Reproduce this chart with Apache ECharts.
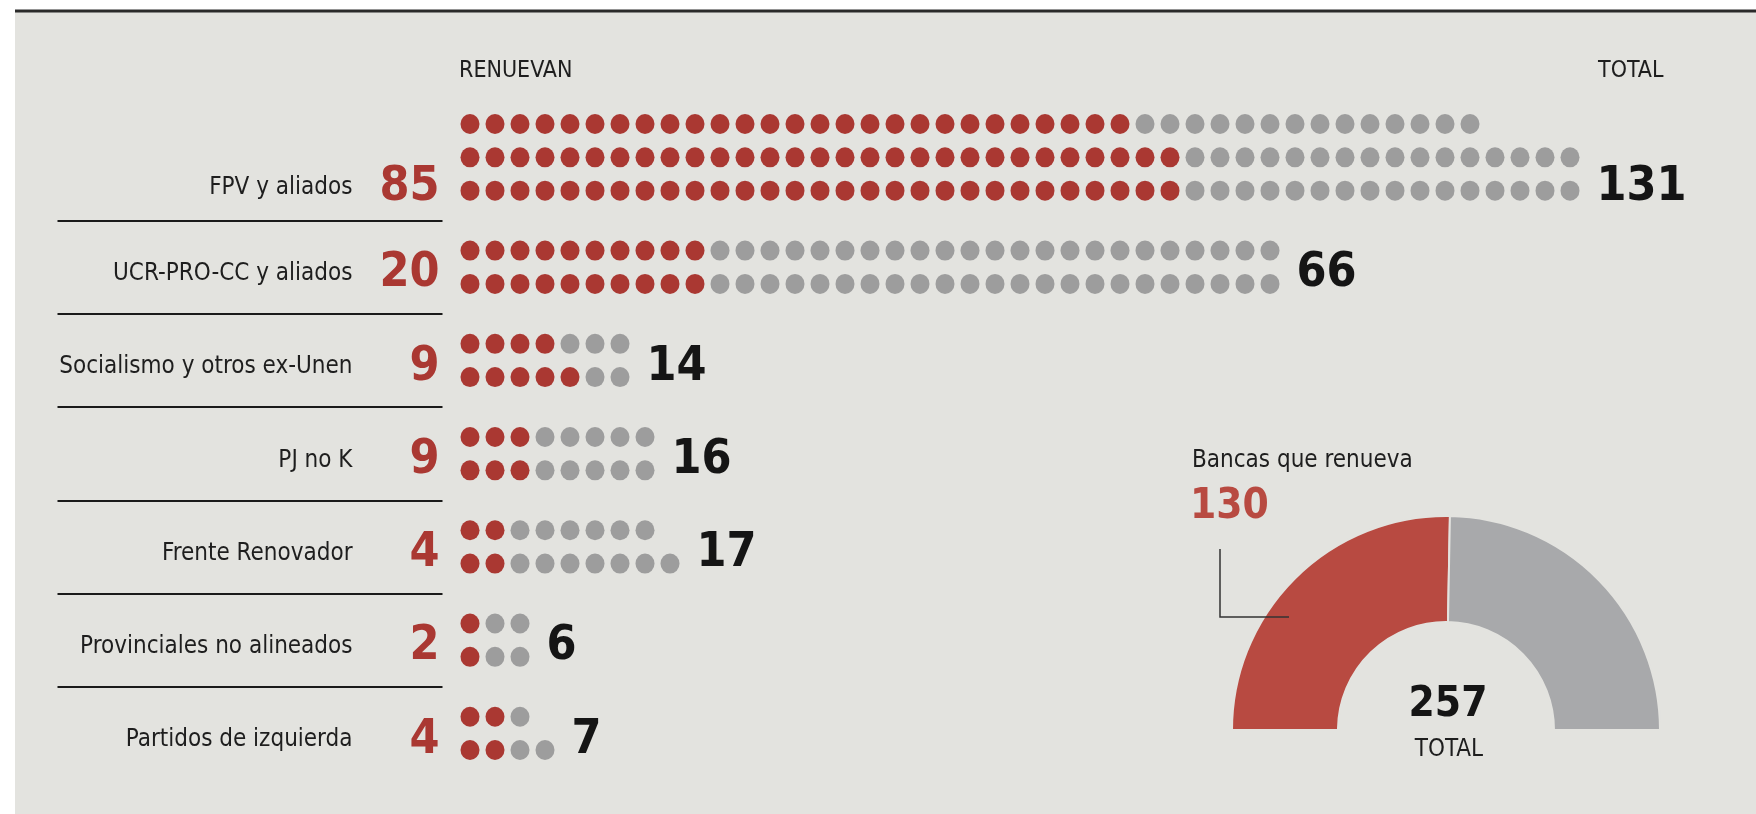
<!DOCTYPE html>
<html>
<head>
<meta charset="utf-8">
<script src="https://cdn.jsdelivr.net/npm/echarts@6/dist/echarts.min.js"></script>
<style>
  html, body { margin: 0; padding: 0; background: #fff; }
  #bancas { width: 1756px; height: 814px; }
</style>
</head>
<body>
<div id="bancas"></div>
<script>
// bloques y bancas
var partidos = ['FPV y aliados', 'UCR-PRO-CC y aliados', 'Socialismo y otros ex-Unen', 'PJ no K',
                'Frente Renovador', 'Provinciales no alineados', 'Partidos de izquierda'];
var renuevan = [85, 20, 9, 9, 4, 2, 4];
var totales = [131, 66, 14, 16, 17, 6, 7];
// puntos dibujados por fila (rojos = renuevan)
var rojosPorFila = [[27, 29, 29], [10, 10], [4, 5], [3, 3], [2, 2], [1, 1], [2, 2]];
var puntosPorFila = [[41, 45, 45], [33, 33], [7, 7], [8, 8], [8, 9], [3, 3], [3, 4]];
var bancasRenueva = 130;
var bancasTotal = 257;

var rojo = '#aa3832';
var gris = '#9d9d9d';
var fondo = '#e3e3df';
var angosta = '"DejaVu Sans Condensed", "Liberation Sans Narrow", sans-serif';
var salto = 1.8; // espacio entre bloques, en filas

var filaInicio = [];
var fila = 0;
for (var p = 0; p < partidos.length; p++) {
    filaInicio.push(fila);
    fila += puntosPorFila[p].length - 1 + salto;
}

var puntosRojos = [], puntosGrises = [], etiquetas = [], totalesPos = [], separadores = [];
for (var p = 0; p < partidos.length; p++) {
    var filas = puntosPorFila[p];
    var maxCol = 0;
    for (var r = 0; r < filas.length; r++) {
        for (var i = 0; i < filas[r]; i++) {
            var punto = [i, filaInicio[p] + r];
            if (i < rojosPorFila[p][r]) puntosRojos.push(punto);
            else puntosGrises.push(punto);
        }
        maxCol = Math.max(maxCol, filas[r] - 1);
    }
    // etiqueta a la altura de las dos ultimas filas
    var yEtiqueta = filaInicio[p] + filas.length - 1.5 + 0.2 + 0.2 * (filas.length - 2);
    etiquetas.push({value: [0, yEtiqueta], name: partidos[p], renuevan: renuevan[p]});
    totalesPos.push({value: [maxCol, yEtiqueta], total: totales[p]});
    if (p > 0) {
        separadores.push([{coord: [-16.5, filaInicio[p] - 0.9]}, {coord: [-1.1, filaInicio[p] - 0.9]}]);
    }
}

var invisible = {color: 'rgba(0,0,0,0)', opacity: 1};

var option = {
    animation: false,
    backgroundColor: fondo,
    grid: {left: 7.5, right: 48.5, top: 107.4, bottom: 47.3},
    xAxis: {type: 'value', min: -18.5, max: 49.5, show: false},
    yAxis: {type: 'value', min: -0.5, max: 19.3, inverse: true, show: false},
    graphic: [
        {type: 'rect', shape: {x: 0, y: 0, width: 1756, height: 10}, style: {fill: '#fff'}},
        {type: 'rect', shape: {x: 0, y: 0, width: 15, height: 814}, style: {fill: '#fff'}},
        {type: 'line', shape: {x1: 15, y1: 11, x2: 1756, y2: 11}, style: {stroke: '#2a2a2a', lineWidth: 3}},
        {type: 'text', x: 459, y: 71, style: {text: 'RENUEVAN', font: '23px ' + angosta, fill: '#1e1e1e', verticalAlign: 'middle'}},
        {type: 'text', x: 1598, y: 71, style: {text: 'TOTAL', font: '23px ' + angosta, fill: '#1e1e1e', verticalAlign: 'middle'}},
        {type: 'text', x: 1192, y: 461, style: {text: 'Bancas que renueva', font: '24px ' + angosta, fill: '#1e1e1e', verticalAlign: 'middle'}},
        {type: 'text', x: 1190, y: 507, style: {text: String(bancasRenueva), font: 'bold 42px ' + angosta, fill: '#b84a41', verticalAlign: 'middle'}},
        {type: 'polyline', shape: {points: [[1220, 549], [1220, 617], [1289, 617]]}, style: {stroke: '#333', lineWidth: 1.5, fill: null}, z: 10},
        {type: 'text', x: 1448, y: 705, style: {text: String(bancasTotal), font: 'bold 42px ' + angosta, fill: '#151515', align: 'center', verticalAlign: 'middle'}, z: 10},
        {type: 'text', x: 1449, y: 750, style: {text: 'TOTAL', font: '24px ' + angosta, fill: '#1e1e1e', align: 'center', verticalAlign: 'middle'}, z: 10}
    ],
    series: [
        {
            name: 'Renuevan', type: 'scatter', silent: true,
            symbolSize: [19, 20], itemStyle: {color: rojo, opacity: 1},
            data: puntosRojos
        },
        {
            name: 'No renuevan', type: 'scatter', silent: true,
            symbolSize: [19, 20], itemStyle: {color: gris, opacity: 1},
            data: puntosGrises
        },
        {
            name: 'Partidos', type: 'scatter', silent: true,
            symbolSize: 1, itemStyle: invisible,
            label: {
                show: true, position: 'left', distance: 117,
                formatter: function (d) { return d.name; },
                fontFamily: angosta, fontSize: 24, color: '#1e1e1e'
            },
            markLine: {
                silent: true, symbol: ['none', 'none'], label: {show: false},
                lineStyle: {type: 'solid', color: '#1a1a1a', width: 2, opacity: 1},
                data: separadores
            },
            data: etiquetas
        },
        {
            name: 'Cantidad', type: 'scatter', silent: true,
            symbolSize: 1, itemStyle: invisible,
            label: {
                show: true, position: 'left', distance: 30,
                formatter: function (d) { return d.data.renuevan; },
                fontFamily: angosta, fontWeight: 'bold', fontSize: 48, color: rojo
            },
            data: etiquetas
        },
        {
            name: 'Total', type: 'scatter', silent: true,
            symbolSize: 1, itemStyle: invisible,
            label: {
                show: true, position: 'right', distance: 26,
                formatter: function (d) { return d.data.total; },
                fontFamily: angosta, fontWeight: 'bold', fontSize: 48, color: '#151515'
            },
            data: totalesPos
        },
        {
            name: 'Cámara', type: 'pie', silent: true,
            center: [1446, 730], radius: [108, 214],
            startAngle: 180, endAngle: 360,
            label: {show: false}, labelLine: {show: false},
            itemStyle: {borderColor: fondo, borderWidth: 2},
            data: [
                {name: 'Renueva', value: bancasRenueva, itemStyle: {color: '#b84a41'}},
                {name: 'No renueva', value: bancasTotal - bancasRenueva, itemStyle: {color: '#a8a9ab'}}
            ]
        }
    ]
};

echarts.init(document.getElementById('bancas')).setOption(option);
</script>
</body>
</html>
